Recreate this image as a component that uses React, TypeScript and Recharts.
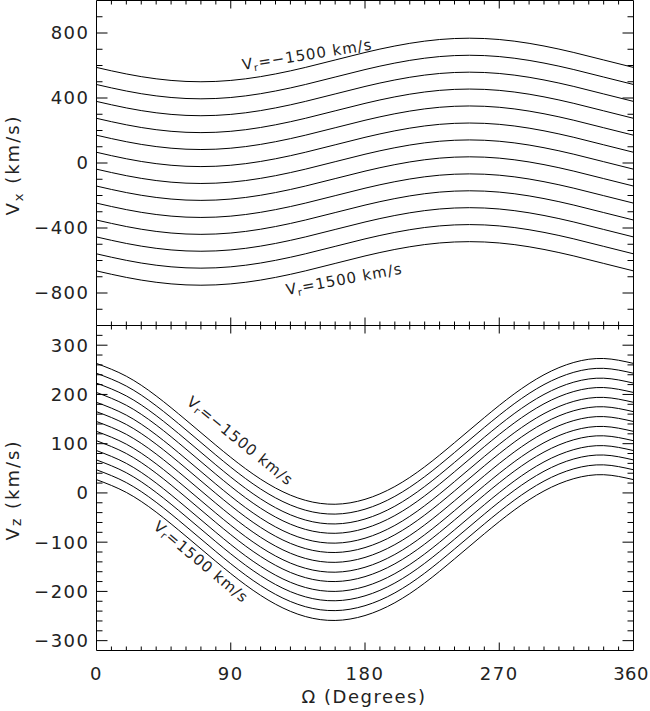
import React from 'react';
import { LineChart, Line, XAxis, YAxis } from 'recharts';

// Omega sample positions (degrees)
const OMEGA = [0, 20, 40, 60, 80, 100, 120, 140, 160, 180, 200, 220, 240, 260, 280, 300, 320, 340, 360];

// Vx curves, Vr = -1500 (top) ... +1500 (bottom)
const VX_CURVES = [
  [588, 548, 518, 502, 502, 518, 548, 588, 634, 680, 720, 750, 766, 766, 750, 720, 680, 634, 588],
  [483, 443, 413, 397, 397, 413, 443, 483, 529, 575, 615, 645, 661, 661, 645, 615, 575, 529, 483],
  [379, 339, 309, 293, 293, 309, 339, 379, 425, 471, 511, 541, 557, 557, 541, 511, 471, 425, 379],
  [275, 235, 205, 189, 189, 205, 235, 275, 321, 367, 407, 437, 453, 453, 437, 407, 367, 321, 275],
  [171, 131, 101, 85, 85, 101, 131, 171, 217, 263, 303, 333, 349, 349, 333, 303, 263, 217, 171],
  [66, 26, -4, -20, -20, -4, 26, 66, 112, 158, 198, 228, 244, 244, 228, 198, 158, 112, 66],
  [-38, -78, -108, -124, -124, -108, -78, -38, 8, 54, 94, 124, 140, 140, 124, 94, 54, 8, -38],
  [-142, -182, -212, -228, -228, -212, -182, -142, -96, -50, -10, 20, 36, 36, 20, -10, -50, -96, -142],
  [-247, -287, -317, -333, -333, -317, -287, -247, -201, -155, -115, -85, -69, -69, -85, -115, -155, -201, -247],
  [-351, -391, -421, -437, -437, -421, -391, -351, -305, -259, -219, -189, -173, -173, -189, -219, -259, -305, -351],
  [-455, -495, -525, -541, -541, -525, -495, -455, -409, -363, -323, -293, -277, -277, -293, -323, -363, -409, -455],
  [-559, -599, -629, -645, -645, -629, -599, -559, -513, -467, -427, -397, -381, -381, -397, -427, -467, -513, -559],
  [-664, -704, -734, -750, -750, -734, -704, -664, -618, -572, -532, -502, -486, -486, -502, -532, -572, -618, -664],
];

// Vz curves, same ordering
const VZ_CURVES = [
  [263, 237, 197, 148, 97, 49, 10, -15, -23, -13, 13, 53, 102, 153, 201, 240, 265, 273, 263],
  [243, 217, 177, 128, 77, 29, -10, -35, -43, -33, -7, 33, 82, 133, 181, 220, 245, 253, 243],
  [223, 197, 157, 108, 57, 9, -30, -55, -63, -53, -27, 13, 62, 113, 161, 200, 225, 233, 223],
  [204, 178, 138, 89, 38, -10, -49, -74, -82, -72, -46, -6, 43, 94, 142, 181, 206, 214, 204],
  [184, 158, 118, 69, 18, -30, -69, -94, -102, -92, -66, -26, 23, 74, 122, 161, 186, 194, 184],
  [165, 139, 99, 50, -1, -49, -88, -113, -121, -111, -85, -45, 4, 55, 103, 142, 167, 175, 165],
  [145, 119, 79, 30, -21, -69, -108, -133, -141, -131, -105, -65, -16, 35, 83, 122, 147, 155, 145],
  [125, 99, 59, 10, -41, -89, -128, -153, -161, -151, -125, -85, -36, 15, 63, 102, 127, 135, 125],
  [106, 80, 40, -9, -60, -108, -147, -172, -180, -170, -144, -104, -55, -4, 44, 83, 108, 116, 106],
  [86, 60, 20, -29, -80, -128, -167, -192, -200, -190, -164, -124, -75, -24, 24, 63, 88, 96, 86],
  [67, 41, 1, -48, -99, -147, -186, -211, -219, -209, -183, -143, -94, -43, 5, 44, 69, 77, 67],
  [47, 21, -19, -68, -119, -167, -206, -231, -239, -229, -203, -163, -114, -63, -15, 24, 49, 57, 47],
  [27, 1, -39, -88, -139, -187, -226, -251, -259, -249, -223, -183, -134, -83, -35, 4, 29, 37, 27],
];

// tick labels / tick marks
const X_LABEL_TICKS = [0, 90, 180, 270, 360];
const X_ALL_TICKS = [10, 20, 30, 40, 50, 60, 70, 80, 90, 100, 110, 120, 130, 140, 150, 160, 170, 180,
  190, 200, 210, 220, 230, 240, 250, 260, 270, 280, 290, 300, 310, 320, 330, 340, 350];
const VX_LABEL_TICKS = [-800, -400, 0, 400, 800];
const VX_ALL_TICKS = [-900, -800, -700, -600, -500, -400, -300, -200, -100, 0, 100, 200, 300, 400, 500, 600, 700, 800, 900];
const VZ_LABEL_TICKS = [-300, -200, -100, 0, 100, 200, 300];
const VZ_ALL_TICKS = [-300, -280, -260, -240, -220, -200, -180, -160, -140, -120, -100, -80, -60, -40, -20, 0,
  20, 40, 60, 80, 100, 120, 140, 160, 180, 200, 220, 240, 260, 280, 300, 320];

const FONT = 'DejaVu Sans';
const INK = '#222';

const toRows = (curves: number[][]) =>
  OMEGA.map((omega, i) => {
    const row: Record<string, number> = { omega };
    curves.forEach((c, k) => {
      row[`c${k}`] = c[i];
    });
    return row;
  });

const vxRows = toRows(VX_CURVES);
const vzRows = toRows(VZ_CURVES);

const minus = (v: number) => (v < 0 ? `\u2212${Math.abs(v)}` : `${v}`);

// tick mark drawn inward from the frame, long on majors
function inwardTick(side: 'left' | 'right' | 'top' | 'bottom', majorStep: number, majorLen: number, minorLen: number) {
  return (props: any) => {
    const { x, y, payload } = props;
    const len = payload.value % majorStep === 0 ? majorLen : minorLen;
    const dx = side === 'left' ? len : side === 'right' ? -len : 0;
    const dy = side === 'top' ? len : side === 'bottom' ? -len : 0;
    return <line x1={x} y1={y} x2={x + dx} y2={y + dy} stroke="#000" strokeWidth={1} />;
  };
}

const labelStyle = { fontSize: 18, fontFamily: FONT, fill: INK, letterSpacing: 1.5 };

// x tick label; the last one is kept inside the page edge
function XLabel(props: any) {
  const { x, y, payload } = props;
  const last = payload.value === 360;
  return (
    <text x={last ? 649 : x} y={y} dy={13} textAnchor={last ? 'end' : 'middle'}
      fontSize={18} fontFamily={FONT} fill={INK} letterSpacing={last ? 0.5 : 1.5}>
      {payload.value}
    </text>
  );
}

export default function App() {
  const lines = (n: number, xId: string) =>
    Array.from({ length: n }, (_, k) => (
      <Line
        key={`c${k}`}
        dataKey={`c${k}`}
        xAxisId={xId}
        yAxisId="lab"
        type="natural"
        stroke="#000"
        strokeWidth={1}
        dot={false}
        activeDot={false}
        isAnimationActive={false}
      />
    ));

  return (
    <div style={{ position: 'absolute', left: 0, top: 0, width: 650, height: 711, background: '#fff' }}>
      <div style={{ position: 'absolute', left: 0, top: 0 }}>
        <LineChart width={650} height={326} data={vxRows} margin={{ top: 0.5, right: 16.5, bottom: 0.5, left: 0.5 }}>
          <XAxis xAxisId="top" orientation="top" mirror height={1} dataKey="omega" type="number" domain={[0, 360]}
            allowDataOverflow ticks={X_ALL_TICKS} interval={0} tickSize={0} tickMargin={0} tickLine={false}
            axisLine={{ stroke: '#000' }} tick={inwardTick('top', 90, 8, 4)} />
          <XAxis xAxisId="bot" orientation="bottom" mirror height={1} dataKey="omega" type="number" domain={[0, 360]}
            allowDataOverflow ticks={X_ALL_TICKS} interval={0} tickSize={0} tickMargin={0} tickLine={false}
            axisLine={{ stroke: '#000' }} tick={inwardTick('bottom', 90, 8, 4)} />
          <YAxis yAxisId="lab" orientation="left" width={96} type="number" domain={[-1000, 1000]} allowDataOverflow
            ticks={VX_LABEL_TICKS} interval={0} tickSize={0} tickMargin={7} tickLine={false} axisLine={false}
            tick={labelStyle} tickFormatter={minus} />
          <YAxis yAxisId="in" orientation="left" mirror width={1} type="number" domain={[-1000, 1000]} allowDataOverflow
            ticks={VX_ALL_TICKS} interval={0} tickSize={0} tickMargin={0} tickLine={false}
            axisLine={{ stroke: '#000' }} tick={inwardTick('left', 400, 11, 6)} />
          <YAxis yAxisId="rt" orientation="right" mirror width={1} type="number" domain={[-1000, 1000]} allowDataOverflow
            ticks={VX_ALL_TICKS} interval={0} tickSize={0} tickMargin={0} tickLine={false}
            axisLine={{ stroke: '#000' }} tick={inwardTick('right', 400, 11, 6)} />
          {lines(VX_CURVES.length, 'bot')}
        </LineChart>
      </div>
      <div style={{ position: 'absolute', left: 0, top: 325 }}>
        <LineChart width={650} height={386} data={vzRows} margin={{ top: 0.5, right: 16.5, bottom: 0, left: 0.5 }}>
          <XAxis xAxisId="lab" orientation="bottom" height={60.5} dataKey="omega" type="number" domain={[0, 360]}
            allowDataOverflow ticks={X_LABEL_TICKS} interval={0} tickSize={0} tickMargin={16} tickLine={false}
            axisLine={false} tick={<XLabel />} />
          <XAxis xAxisId="top" orientation="top" mirror height={1} dataKey="omega" type="number" domain={[0, 360]}
            allowDataOverflow ticks={X_ALL_TICKS} interval={0} tickSize={0} tickMargin={0} tickLine={false}
            axisLine={{ stroke: '#000' }} tick={inwardTick('top', 90, 8, 4)} />
          <XAxis xAxisId="bot" orientation="bottom" mirror height={1} dataKey="omega" type="number" domain={[0, 360]}
            allowDataOverflow ticks={X_ALL_TICKS} interval={0} tickSize={0} tickMargin={0} tickLine={false}
            axisLine={{ stroke: '#000' }} tick={inwardTick('bottom', 90, 8, 4)} />
          <YAxis yAxisId="lab" orientation="left" width={96} type="number" domain={[-320, 340]} allowDataOverflow
            ticks={VZ_LABEL_TICKS} interval={0} tickSize={0} tickMargin={7} tickLine={false} axisLine={false}
            tick={labelStyle} tickFormatter={minus} />
          <YAxis yAxisId="in" orientation="left" mirror width={1} type="number" domain={[-320, 340]} allowDataOverflow
            ticks={VZ_ALL_TICKS} interval={0} tickSize={0} tickMargin={0} tickLine={false}
            axisLine={{ stroke: '#000' }} tick={inwardTick('left', 100, 11, 6)} />
          <YAxis yAxisId="rt" orientation="right" mirror width={1} type="number" domain={[-320, 340]} allowDataOverflow
            ticks={VZ_ALL_TICKS} interval={0} tickSize={0} tickMargin={0} tickLine={false}
            axisLine={{ stroke: '#000' }} tick={inwardTick('right', 100, 11, 6)} />
          {lines(VZ_CURVES.length, 'lab')}
        </LineChart>
      </div>
      <svg width={650} height={711} style={{ position: 'absolute', left: 0, top: 0, pointerEvents: 'none' }}
        fontFamily={FONT} fill={INK}>
        <text x={19} y={165} transform="rotate(-90 19 165)" textAnchor="middle" fontSize={18} letterSpacing={2}>
          V<tspan fontSize={13} dy={4}>x</tspan><tspan dy={-4}> (km/s)</tspan>
        </text>
        <text x={19} y={490} transform="rotate(-90 19 490)" textAnchor="middle" fontSize={18} letterSpacing={2}>
          V<tspan fontSize={14} dy={2}>z</tspan><tspan dy={-2}> (km/s)</tspan>
        </text>
        <text x={364} y={703} textAnchor="middle" fontSize={18} letterSpacing={1.5}>
          {'\u03A9 (Degrees)'}
        </text>
        <text x={243} y={70} transform="rotate(-9 243 70)" fontSize={15} letterSpacing={1}>
          V<tspan fontSize={10} dy={3}>r</tspan><tspan dy={-3}>{'=\u22121500 km/s'}</tspan>
        </text>
        <text x={287} y={295} transform="rotate(-10.5 287 295)" fontSize={15} letterSpacing={1}>
          V<tspan fontSize={10} dy={3}>r</tspan><tspan dy={-3}>=1500 km/s</tspan>
        </text>
        <text x={240} y={441} transform="rotate(39 240 441)" textAnchor="middle" dominantBaseline="central"
          fontSize={15} letterSpacing={1}>
          V<tspan fontSize={10} dy={3}>r</tspan><tspan dy={-3}>{'=\u22121500 km/s'}</tspan>
        </text>
        <text x={201} y={562} transform="rotate(40 201 562)" textAnchor="middle" dominantBaseline="central"
          fontSize={15} letterSpacing={1}>
          V<tspan fontSize={10} dy={3}>r</tspan><tspan dy={-3}>=1500 km/s</tspan>
        </text>
      </svg>
    </div>
  );
}
